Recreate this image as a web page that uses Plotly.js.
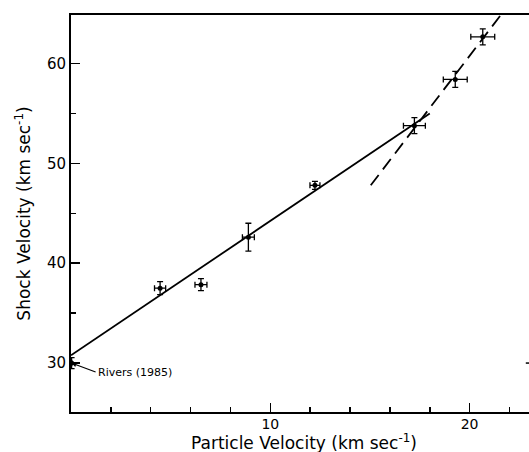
<!DOCTYPE html>
<html>
<head>
<meta charset="utf-8">
<script src="https://cdn.plot.ly/plotly-3.0.1.min.js"></script>
<style>html,body{margin:0;padding:0;background:#fff;}#chart{width:529px;height:452px;}</style>
</head>
<body>
<div id="chart"></div>
<script>
// Measured data points (particle velocity, shock velocity) with error bars
var particleVel = [0.03, 4.47, 6.52, 8.90, 12.24, 17.23, 19.28, 20.66];
var shockVel    = [30.0, 37.5, 37.85, 42.6, 47.8, 53.77, 58.4, 62.66];
var particleErr = [0.0, 0.28, 0.3, 0.3, 0.25, 0.55, 0.6, 0.6];
var shockErr    = [0.55, 0.65, 0.6, 1.4, 0.4, 0.8, 0.8, 0.8];

// Solid fit line
var fitX = [0, 18.0];
var fitY = [30.77, 55.0];
// Dashed fit line
var dashX = [15.04, 21.66];
var dashY = [47.8, 65.1];

var xTicks = [10, 20];
var yTicks = [30, 40, 50, 60];
var riversLabel = "Rivers (1985)";
var xTitle = "Particle Velocity (km sec<sup>-1</sup>)";
var yTitle = "Shock Velocity (km sec<sup>-1</sup>)";

var font = "DejaVu Sans, Liberation Sans, sans-serif";

var traces = [
  {x: fitX, y: fitY, mode: "lines", type: "scatter",
   line: {color: "#000", width: 1.8}, hoverinfo: "skip"},
  {x: dashX, y: dashY, mode: "lines", type: "scatter",
   line: {color: "#000", width: 1.8, dash: "13px,7px"}, hoverinfo: "skip"},
  {x: particleVel, y: shockVel, mode: "markers", type: "scatter",
   cliponaxis: false,
   marker: {color: "#000", size: 5},
   error_x: {type: "data", array: particleErr, visible: true, color: "#000", thickness: 1.3, width: 3},
   error_y: {type: "data", array: shockErr, visible: true, color: "#000", thickness: 1.3, width: 3}}
];

var layout = {
  width: 529, height: 452,
  margin: {l: 71, r: 0, t: 15, b: 40},
  paper_bgcolor: "#fff", plot_bgcolor: "#fff",
  showlegend: false,
  font: {family: font, color: "#000", size: 15},
  xaxis: {
    range: [0, 22.98], showgrid: false, zeroline: false,
    showline: true, linecolor: "#000", linewidth: 2, mirror: true,
    ticks: "inside", ticklen: 9, tickwidth: 1.5, tickcolor: "#000",
    tickmode: "array", tickvals: xTicks, ticktext: xTicks.map(String),
    tickfont: {family: font, size: 14}, ticklabelstandoff: -2,
    minor: {dtick: 2, tick0: 0, ticks: "inside", ticklen: 5, tickwidth: 1.5, tickcolor: "#000", showgrid: false}
  },
  yaxis: {
    range: [25.1, 64.85], showgrid: false, zeroline: false,
    showline: true, linecolor: "#000", linewidth: 2,
    ticks: "inside", ticklen: 9, tickwidth: 1.5, tickcolor: "#000",
    tickmode: "array", tickvals: yTicks, ticktext: yTicks.map(String),
    tickfont: {family: font, size: 15},
    minor: {dtick: 5, tick0: 0, ticks: "inside", ticklen: 5, tickwidth: 1.5, tickcolor: "#000", showgrid: false},
    title: {text: yTitle, font: {family: font, size: 17}, standoff: 12}
  },
  shapes: [
    {type: "line", xref: "paper", yref: "y", x0: 0.993, x1: 1, y0: 30, y1: 30,
     line: {color: "#000", width: 1.5}}
  ],
  annotations: [
    {x: particleVel[0], y: shockVel[0], xref: "x", yref: "y",
     text: riversLabel, showarrow: true, arrowhead: 2, arrowsize: 0.8, arrowwidth: 1.2,
     arrowcolor: "#000", ax: 24, ay: 9, xanchor: "left", yanchor: "middle",
     font: {family: font, size: 11, color: "#000"}},
    {x: 0.508, y: -0.076, xref: "paper", yref: "paper", xanchor: "center", yanchor: "middle",
     text: xTitle, showarrow: false, font: {family: font, size: 17, color: "#000"}}
  ]
};

Plotly.newPlot("chart", traces, layout, {staticPlot: true, displayModeBar: false});
</script>
</body>
</html>
